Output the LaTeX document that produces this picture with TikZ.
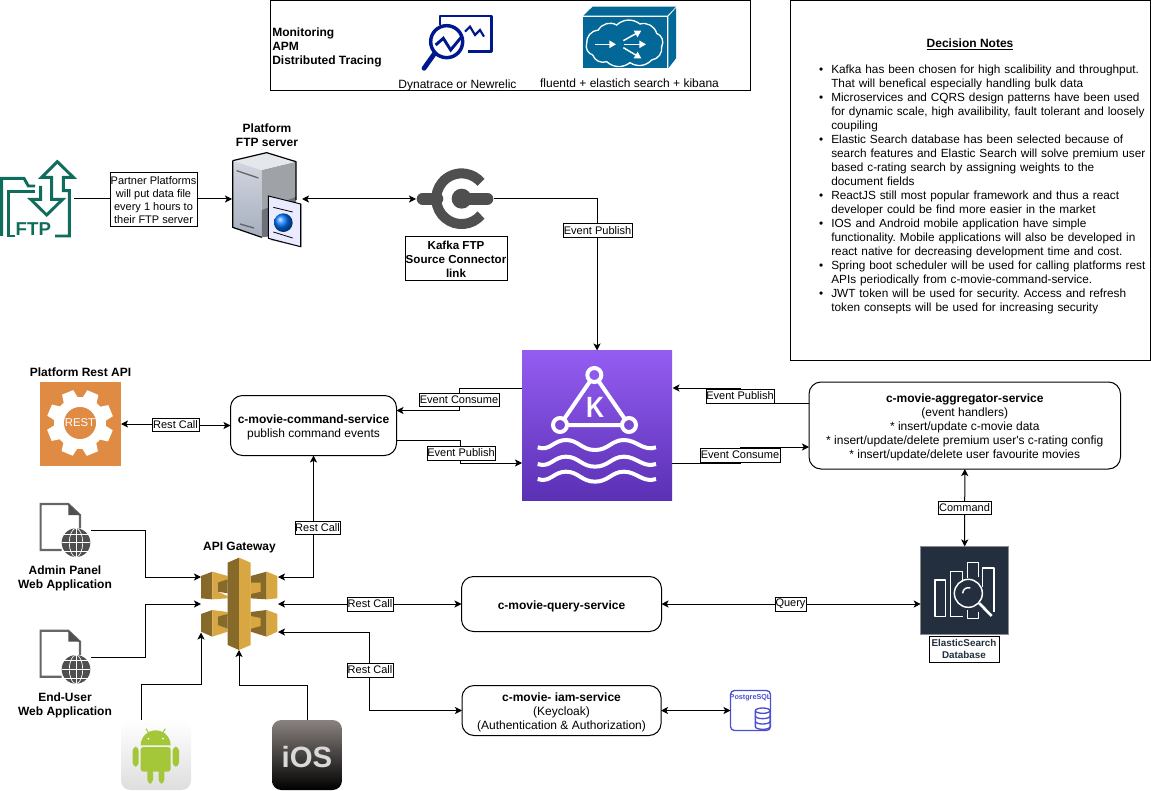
\documentclass[tikz,border=0pt]{standalone}
\usepackage{fontspec}
\setmainfont{Liberation Sans}
\usetikzlibrary{arrows.meta}

\definecolor{ftpgreen}{HTML}{116D5B}
\definecolor{apmblue}{HTML}{00188D}
\definecolor{cubeblue}{HTML}{036897}
\definecolor{kafkatop}{HTML}{945DF2}
\definecolor{kafkabot}{HTML}{5A30B4}
\definecolor{restorange}{HTML}{E08B43}
\definecolor{gwlight}{HTML}{D9A741}
\definecolor{gwdark}{HTML}{876929}
\definecolor{esnavy}{HTML}{232F3E}
\definecolor{pgblue}{HTML}{4A4FD0}
\definecolor{connink}{HTML}{4F4F4F}
\definecolor{docgray}{HTML}{666666}
\definecolor{androidgreen}{HTML}{A4C639}
\definecolor{srvlight}{HTML}{D2D6E0}
\definecolor{srvmid}{HTML}{A6AEBE}
\definecolor{srvgray}{HTML}{9FA3A8}
\definecolor{srvdark}{HTML}{6E7278}
\definecolor{iostop}{HTML}{8A8280}
\definecolor{iosmid}{HTML}{3A3636}

\newcommand{\svcpad}{\rule{0pt}{9pt}}

\tikzset{
  >={Stealth[length=5.25pt,width=5.25pt,inset=1.3pt]},
  txt/.style={font=\fontsize{9pt}{10.5pt}\selectfont,align=center,inner sep=0pt},
  txtb/.style={txt,font=\fontsize{9pt}{10.5pt}\selectfont\bfseries},
  box/.style n args={2}{minimum width=#1*.75pt,minimum height=#2*.75pt,inner sep=0pt,outer sep=0pt},
  svc/.style={txt,draw=black,line width=.75pt,rounded corners=9pt,outer sep=0pt},
  lbl/.style={align=center,font=\fontsize{8.25pt}{9.75pt}\selectfont,draw=black,fill=white,line width=.75pt,outer sep=0pt},
  flow/.style={->,line width=.75pt},
  link/.style={<->,line width=.75pt},
}

\begin{document}
\begin{tikzpicture}[x=.75pt,y=-.75pt]
  \useasboundingbox (0,0) rectangle (1151,791);

  % monitoring strip
  \node[box={480}{90},draw=black,line width=.75pt] (monitor) at (510.5,45.5) {};
  \node[txtb,align=left,anchor=west] (monlabel) at (272,47) {Monitoring\\APM\\Distributed Tracing};
  \node[txt] (apmlabel) at (457.5,85) {Dynatrace or Newrelic};
  \node[txt] (loglabel) at (629.5,83) {fluentd + elastich search + kibana};
  \begin{scope}[shift={(270,0)},x=.25pt,y=-.25pt]
    \draw[apmblue,line width=2.2pt,line join=round] (510,75) -- (510,48) -- (665,48) -- (665,155) -- (595,155);
    \draw[apmblue,line width=1.6pt] (585,95) -- (600,80) -- (615,105) -- (630,90) -- (642,110);
    \draw[apmblue,line width=2.6pt] (530,125) circle (48);
    \draw[apmblue,line width=3.6pt,line cap=round] (494,160) -- (462,205);
    \draw[apmblue,line width=2.2pt] (497,135) -- (520,115) -- (542,150) -- (575,110);
    \fill[cubeblue] (940,50) rectangle (1192,205);
    \fill[cubeblue] (940,47) -- (968,20) -- (1218,20) -- (1192,47) -- cycle;
    \fill[cubeblue] (1195,50) -- (1218,24) -- (1218,175) -- (1195,205) -- cycle;
    \draw[white,line width=1pt] (950,130) to[bend left=45] (985,90) to[bend left=45] (1040,75) to[bend left=40] (1110,72) to[bend left=45] (1160,100) to[bend left=50] (1175,140) to[bend left=45] (1145,180) to[bend left=40] (1080,188) to[bend left=40] (1010,185) to[bend left=45] (968,165) to[bend left=45] (950,130);
    \draw[-{Triangle[length=5pt,width=5.5pt]},white,line width=1.1pt] (975,133) -- (1038,133);
    \draw[-{Triangle[length=5pt,width=5.5pt]},white,line width=1.1pt] (1060,122) -- (1114,92);
    \draw[-{Triangle[length=5pt,width=5.5pt]},white,line width=1.1pt] (1062,133) -- (1128,133);
    \draw[-{Triangle[length=5pt,width=5.5pt]},white,line width=1.1pt] (1060,143) -- (1114,175);
  \end{scope}

  % decision notes
  \node[box={360}{360},draw=black,line width=.75pt] (notes) at (970.5,180.5) {};
  \node[txtb] (notestitle) at (970,44.5) {\underline{Decision Notes}};
  \node[txt,align=left,anchor=north west,text width=300pt,font=\fontsize{8.85pt}{10.5pt}\selectfont] (noteslist) at (801,48.7) {%
    \setlength{\leftmargini}{22.5pt}\setlength{\labelsep}{6pt}\frenchspacing
    \begin{itemize}\itemsep0pt\parsep0pt\parskip0pt
      \item Kafka has been chosen for high scalibility and throughput.\\That will benefical especially handling bulk data
      \item Microservices and CQRS design patterns have been used\\for dynamic scale, high availibility, fault tolerant and loosely\\coupiling
      \item Elastic Search database has been selected because of\\search features and Elastic Search will solve premium user\\based c-rating search by assigning weights to the\\document fields
      \item ReactJS still most popular framework and thus a react\\developer could be find more easier in the market
      \item IOS and Android mobile application have simple\\functionality. Mobile applications will also be developed in\\react native for decreasing development time and cost.
      \item Spring boot scheduler will be used for calling platforms rest\\APIs periodically from c-movie-command-service.
      \item JWT token will be used for security. Access and refresh\\token consepts will be used for increasing security
    \end{itemize}};

  % ftp row
  \node[box={74}{78}] (ftp) at (37,199) {};
  \node[box={70}{96}] (server) at (267,199) {};
  \node[box={78}{62}] (connector) at (455,199) {};
  \node[txtb] (servertitle) at (267,135) {Platform\\FTP server};
  \begin{scope}[shift={(0,100)},x=.25pt,y=-.25pt,ftpgreen,line width=2.2pt,line join=miter]
    \draw (5,408) -- (5,235) -- (72,235) -- (85,258) -- (105,258);
    \draw (45,408) -- (25,408) -- (25,275) -- (105,275);
    \draw (165,408) -- (208,408) -- (208,272) -- (190,272) -- (190,232) -- (220,232) -- (172,185) -- (125,232) -- (155,232) -- (155,298) -- (188,298) -- (140,345) -- (92,298) -- (122,298) -- (122,258);
    \node[font=\fontsize{14pt}{14pt}\selectfont\bfseries,text=ftpgreen,inner sep=0pt] (ftptext) at (100,388) {FTP};
  \end{scope}
  \begin{scope}[shift={(0,100)},x=.25pt,y=-.25pt]
    \shade[top color=srvlight,bottom color=srvmid] (698,182) -- (785,210) -- (785,412) -- (698,382) -- cycle;
    \fill[srvgray] (785,210) -- (888,185) -- (888,290) -- (785,330) -- cycle;
    \fill[srvdark] (785,330) -- (888,290) -- (888,400) -- (785,412) -- cycle;
    \fill[srvlight!60!white] (698,182) -- (800,158) -- (888,185) -- (785,210) -- cycle;
    \draw[black,line width=.9pt,line join=round] (698,182) -- (800,158) -- (888,185) -- (888,300);
    \draw[black,line width=.9pt,line join=round] (698,182) -- (698,382) -- (785,412);
    \draw[black!60,line width=1pt] (710,212) -- (775,234);
    \draw[black!60,line width=1pt] (720,372) -- (762,384);
    \fill[srvmid!70!black] (812,290) -- (905,312) -- (905,442) -- (812,420) -- cycle;
    \draw[fill=white!92!blue,line width=.7pt] (805,288) -- (902,312) -- (902,440) -- (805,415) -- cycle;
    \draw[black,line width=.6pt] (820,322) -- (878,336);
    \draw[black,line width=.6pt] (820,396) -- (878,414);
    \shade[ball color=blue!55!cyan] (850,368) circle (28);
  \end{scope}
  \begin{scope}[shift={(0,100)},x=.25pt,y=-.25pt]
    \draw[connink,line width=7.5pt] (1443,345) arc (40:320:76);
    \draw[connink,line width=9pt,line cap=round] (1268,296) -- (1312,296);
    \draw[connink,line width=9pt,line cap=round] (1385,296) -- (1462,296);
    \fill[connink] (1385,296) circle (30);
  \end{scope}
  \node[lbl,box={102}{44},font=\fontsize{8.7pt}{10.5pt}\selectfont\bfseries] (connectorlabel) at (456,259) {Kafka FTP\\Source Connector\\link};

  % kafka
  \node[box={150}{150},top color=kafkatop,bottom color=kafkabot] (kafka) at (597,425.5) {};
  \begin{scope}[shift={(510,340)},x=.25pt,y=-.25pt]
    \draw[white,line width=3pt,line join=round] (253,105) -- (150,255) -- (357,255) -- cycle;
    \draw[white,line width=3pt,fill=kafkatop!90!kafkabot] (253,105) circle (21);
    \draw[white,line width=3pt,fill=kafkatop!55!kafkabot] (150,255) circle (21);
    \draw[white,line width=3pt,fill=kafkatop!55!kafkabot] (357,255) circle (21);
    \node[font=\fontsize{22pt}{22pt}\selectfont\bfseries,text=white,inner sep=0pt,xscale=.85] (kafkak) at (255,202) {K};
    \foreach \wy in {0,50,95}
      \draw[white,line width=3pt,yshift=-\wy*.25pt] (83,322) .. controls (120,335) and (130,300) .. (168,300) .. controls (205,300) and (215,330) .. (255,330) .. controls (295,330) and (305,300) .. (342,300) .. controls (380,300) and (400,335) .. (438,322);
  \end{scope}

  % services
  \node[svc,box={166}{60}] (cmd) at (313.5,425.5) {\svcpad\textbf{c-movie-command-service}\\publish command events};
  \node[svc,box={311.5}{87}] (agg) at (964.75,425.5) {\svcpad\textbf{c-movie-aggregator-service}\\(event handlers)\\* insert/update c-movie data\\* insert/update/delete premium user\textquotesingle s c-rating config\\* insert/update/delete user favourite movies};
  \node[svc,box={200}{55},font=\fontsize{9pt}{10.5pt}\selectfont\bfseries] (query) at (561.5,604) {\rule{0pt}{10pt}c-movie-query-service};
  \node[svc,box={199}{50}] (iam) at (561.5,710.5) {\svcpad\textbf{c-movie- iam-service}\\(Keycloak)\\(Authentication \& Authorization)};

  % rest api
  \node[box={81}{84},fill=restorange] (rest) at (80.5,424) {};
  \node[txtb] (resttitle) at (80.5,372) {Platform Rest API};
  \fill[white] (80,423) circle (26);
  \foreach \ga in {0,45,...,315}
    \fill[white,shift={(80,423)},rotate=\ga+22] (22,-8) -- (33,-6) -- (33,6) -- (22,8) -- cycle;
  \fill[restorange] (80,423) circle (16);
  \node[font=\fontsize{8.5pt}{8.5pt}\selectfont,text=white,inner sep=0pt] (resttext) at (80,423) {REST};

  % gateway
  \node[box={76}{92}] (gateway) at (239,604) {};
  \node[txtb] (gatewaytitle) at (239.5,548) {API Gateway};
  \begin{scope}[shift={(0,490)},x=.25pt,y=-.25pt]
    \fill[gwdark] (603,258) -- (637,245) -- (637,328) -- (603,325) -- cycle;
    \fill[gwlight] (637,245) -- (683,258) -- (683,278) -- (653,278) -- (653,305) -- (683,318) -- (683,325) -- (637,328) -- cycle;
    \fill[gwdark] (653,278) -- (683,268) -- (683,310) -- (653,305) -- cycle;
    \fill[gwdark] (752,258) -- (800,245) -- (800,328) -- (752,325) -- cycle;
    \fill[gwlight] (752,278) -- (782,278) -- (782,305) -- (752,312) -- cycle;
    \fill[gwlight] (800,245) -- (832,258) -- (832,325) -- (800,328) -- cycle;
    \fill[gwdark] (603,372) -- (637,360) -- (637,440) -- (603,425) -- cycle;
    \fill[gwlight] (637,360) -- (683,366) -- (683,380) -- (653,380) -- (653,405) -- (683,416) -- (683,425) -- (637,440) -- cycle;
    \fill[gwdark] (653,380) -- (683,372) -- (683,416) -- (653,405) -- cycle;
    \fill[gwdark] (752,366) -- (800,360) -- (800,440) -- (752,425) -- cycle;
    \fill[gwlight] (752,378) -- (782,384) -- (782,408) -- (752,416) -- cycle;
    \fill[gwlight] (800,360) -- (832,372) -- (832,425) -- (800,440) -- cycle;
    \fill[gwdark] (717,203) -- (683,218) -- (683,465) -- (717,480) -- cycle;
    \fill[gwlight] (717,203) -- (752,218) -- (752,465) -- (717,480) -- cycle;
  \end{scope}

  % web applications
  \foreach \docy/\docname in {490/admin,616.7/enduser} {
    \begin{scope}[shift={(0,\docy)},x=.25pt,y=-.25pt]
      \draw[docgray,line width=1.6pt] (185,180) -- (122,180) -- (122,42) -- (205,42) -- (240,75) -- (240,115);
      \fill[connink] (205,42) -- (240,75) -- (205,75) -- cycle;
      \fill[connink] (228,158) circle (43);
      \draw[white,line width=.5pt] (228,115) -- (228,201);
      \draw[white,line width=.5pt] (185,158) -- (271,158);
      \draw[white,line width=.5pt] (228,115) arc (-90:90:20 and 43);
      \draw[white,line width=.5pt] (228,115) arc (-90:-270:20 and 43);
      \draw[white,line width=.5pt] (193,132) -- (263,132);
      \draw[white,line width=.5pt] (193,184) -- (263,184);
    \end{scope}
    \node[box={50}{54}] (\docname) at (66,\docy+39.7) {};
  }
  \node[txtb] (admintitle) at (65,578.5) {Admin Panel\\Web Application};
  \node[txtb] (endusertitle) at (65,705.5) {End-User\\Web Application};

  % mobile
  \node[box={70}{70},rounded corners=7pt,top color=white,bottom color=black!13] (android) at (156,755) {};
  \node[box={70}{70},rounded corners=7pt,top color=iostop,middle color=iosmid,bottom color=black] (ios) at (307,755) {};
  \begin{scope}[shift={(0,490)},x=.25pt,y=-.25pt,androidgreen]
    \fill (422,766) arc (180:360:45) -- cycle;
    \draw[line width=.8pt] (448,732) -- (438,716);
    \draw[line width=.8pt] (486,732) -- (496,716);
    \fill[rounded corners=2pt] (422,771) rectangle (512,845);
    \fill[rounded corners=3pt] (398,770) rectangle (416,830);
    \fill[rounded corners=3pt] (518,770) rectangle (537,830);
    \fill[rounded corners=3pt] (442,835) rectangle (459,881);
    \fill[rounded corners=3pt] (476,835) rectangle (493,881);
    \fill[white] (445,746) circle (3);
    \fill[white] (489,746) circle (3);
  \end{scope}
  \node[font=\fontsize{22pt}{22pt}\selectfont\bfseries,text=black!15,inner sep=0pt] (iostext) at (307,757) {iOS};

  % elastic and postgres
  \node[box={88}{88},fill=esnavy,draw=black!45,line width=.5pt] (elastic) at (964.7,590.5) {};
  \begin{scope}[shift={(880,470)},x=.25pt,y=-.25pt,white,line width=1.1pt,line join=round]
    \draw (165,330) rectangle (197,440);
    \draw (212,440) -- (212,305) -- (248,305) -- (248,335);
    \draw (212,440) -- (248,440);
    \draw (262,325) -- (262,278) -- (295,278) -- (295,322);
    \draw (262,420) -- (262,445) -- (295,445) -- (295,425);
    \draw (308,350) -- (308,294) -- (342,294) -- (342,425);
    \draw (265,370) circle (42);
    \draw (248,370) arc (180:290:17);
    \draw[line width=2pt] (298,400) -- (335,438);
  \end{scope}
  \node[lbl,box={70}{26},font=\fontsize{7.4pt}{9pt}\selectfont\bfseries,text=esnavy] (elasticlabel) at (964,649) {ElasticSearch\\Database};
  \node[box={40}{40},draw=pgblue,line width=1pt,rounded corners=3pt] (postgres) at (750.5,710.5) {};
  \node[font=\fontsize{5.4pt}{5.4pt}\selectfont\bfseries,text=pgblue,inner sep=0pt] (pgtext) at (750.5,698) {PostgreSQL};
  \begin{scope}[shift={(340,620)},x=.25pt,y=-.25pt,pgblue,line width=1pt]
    \filldraw[fill=white] (1246,272) arc (180:360:22 and 8) -- (1290,320) arc (0:180:22 and 8) -- cycle;
    \draw (1246,272) arc (180:0:22 and 8);
    \draw (1246,288) arc (180:0:22 and 8);
    \draw (1246,304) arc (180:0:22 and 8);
  \end{scope}

  % connector ends
  \coordinate (kafkalo) at (522,388);
  \coordinate (kafkali) at (522,463);
  \coordinate (kafkari) at (672.5,388);
  \coordinate (kafkaro) at (672,463);
  \coordinate (aggpub) at (809,403.5);
  \coordinate (aggcon) at (809,447);
  \coordinate (cmdin) at (396.5,410.5);
  \coordinate (cmdout) at (396.5,440.5);
  \coordinate (gwadmin) at (201,577);
  \coordinate (gwuser) at (201,604);
  \coordinate (gwandroid) at (201,632.5);
  \coordinate (gwcmd) at (278,577);
  \coordinate (gwquery) at (278,604);
  \coordinate (gwiam) at (278,632);
  \coordinate (adminout) at (91,530.5);
  \coordinate (userout) at (91,657.5);
  \coordinate (androidup) at (141.5,720);

  \draw[flow] (ftp.east) -- (server.west);
  \draw[link] (server.east) -- (connector.west);
  \draw[flow] (connector.east) -| (kafka.north);
  \draw[flow] (kafkalo) -- (459,388) |- (cmdin);
  \draw[flow] (cmdout) -- (460.5,440.5) |- (kafkali);
  \draw[flow] (aggpub) -- (740,403.5) |- (kafkari);
  \draw[flow] (kafkaro) -- (740,463) |- (aggcon);
  \draw[link] (rest.east) -- (175,424) -- (175,425.5) -- (cmd.west);
  \draw[link] (gwcmd) -| (cmd.south);
  \draw[flow] (adminout) -- (145.5,530.5) |- (gwadmin);
  \draw[flow] (userout) -- (145.5,657.5) |- (gwuser);
  \draw[flow] (androidup) |- (201,684.5) -- (gwandroid);
  \draw[flow] (ios.north) |- (239,685) -- (gateway.south);
  \draw[link] (gwquery) -- (query.west);
  \draw[link] (query.east) -- (elastic.west |- query.east);
  \draw[link] (gwiam) -| (369.5,710.5) -- (iam.west);
  \draw[link] (iam.east) -- (postgres.west);
  \draw[link] (agg.south) -- (elastic.north);

  % connector labels
  \node[lbl,box={87}{54}] (partnerlabel) at (153.5,200) {Partner Platforms\\will put data file\\every 1 hours to\\their FTP server};
  \node[lbl,box={69}{14}] (publishtop) at (597.5,231) {Event Publish};
  \node[lbl,box={80}{13}] (consumeleft) at (459,399.5) {Event Consume};
  \node[lbl,box={68}{14}] (publishleft) at (461,453) {Event Publish};
  \node[lbl,box={68}{14}] (publishright) at (740,396) {Event Publish};
  \node[lbl,box={80}{14}] (consumeright) at (740,455) {Event Consume};
  \node[lbl,box={47}{13}] (restleft) at (175.5,424.5) {Rest Call};
  \node[lbl,box={45}{13}] (restup) at (317.5,527.5) {Rest Call};
  \node[lbl,box={46}{14}] (restmid) at (370,604) {Rest Call};
  \node[lbl,box={46}{14}] (restlow) at (370,670) {Rest Call};
  \node[lbl,box={31}{14}] (querylabel) at (790.5,604) {Query};
  \node[lbl,box={53}{13}] (commandlabel) at (964.5,507.5) {Command};
\end{tikzpicture}
\end{document}
